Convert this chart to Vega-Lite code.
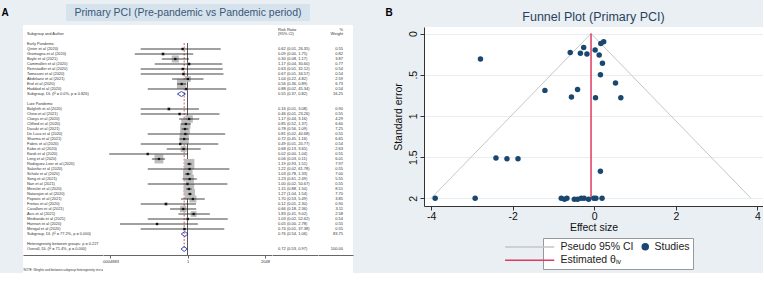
{
"$schema":"https://vega.github.io/schema/vega-lite/v6.json",
"background":"#e9eff3",
"padding":{"left":0,"top":4,"right":0,"bottom":0},
"config":{"view":{"stroke":null},"font":"Liberation Sans"},
"datasets":{
"forest":[
{"row":-0.9,"rrtext":"Risk Ratio","wtext":"%","type":"head"},
{"row":0,"label":"Subgroup and Author","rrtext":"(95% CI)","wtext":"Weight","type":"head"},
{"row":2,"label":"Early Pandemic","type":"group"},
{"row":3,"label":"Qinier et al (2020)","rr":0.62,"lo":0.01,"hi":26.35,"w":0.55,"rrtext":"0.62 (0.01, 26.35)","wtext":"0.55","type":"study"},
{"row":4,"label":"Gramagna et al (2020)","rr":0.09,"lo":0.0056,"hi":1.75,"w":0.82,"rrtext":"0.09 (0.00, 1.75)","wtext":"0.82","type":"study"},
{"row":5,"label":"Boyle et al (2021)","rr":0.30,"lo":0.08,"hi":1.17,"w":3.87,"rrtext":"0.30 (0.08, 1.17)","wtext":"3.87","type":"study"},
{"row":6,"label":"Cammalleri et al (2020)","rr":1.17,"lo":0.04,"hi":30.60,"w":0.77,"rrtext":"1.17 (0.04, 30.60)","wtext":"0.77","type":"study"},
{"row":7,"label":"Reinstadler et al (2020)","rr":0.63,"lo":0.01,"hi":32.12,"w":0.54,"rrtext":"0.63 (0.01, 32.12)","wtext":"0.54","type":"study"},
{"row":8,"label":"Tomasoni et al (2020)","rr":0.67,"lo":0.01,"hi":34.57,"w":0.54,"rrtext":"0.67 (0.01, 34.57)","wtext":"0.54","type":"study"},
{"row":9,"label":"Abdelaziz et al (2021)","rr":1.04,"lo":0.22,"hi":4.82,"w":2.59,"rrtext":"1.04 (0.22, 4.82)","wtext":"2.59","type":"study"},
{"row":10,"label":"Erol et al (2020)","rr":0.56,"lo":0.36,"hi":0.89,"w":6.73,"rrtext":"0.56 (0.36, 0.89)","wtext":"6.73","type":"study"},
{"row":11,"label":"Haddad et al (2020)","rr":0.88,"lo":0.02,"hi":45.34,"w":0.54,"rrtext":"0.88 (0.02, 45.34)","wtext":"0.54","type":"study"},
{"row":12,"label":"Subgroup, DL (I² = 0.0%, p = 0.826)","rr":0.55,"lo":0.37,"hi":0.82,"rrtext":"0.55 (0.37, 0.82)","wtext":"16.25","type":"sum"},
{"row":14,"label":"Late Pandemic","type":"group"},
{"row":15,"label":"Balghith et al (2020)","rr":0.16,"lo":0.01,"hi":3.08,"w":0.90,"rrtext":"0.16 (0.01, 3.08)","wtext":"0.90","type":"study"},
{"row":16,"label":"Chew et al (2021)","rr":0.46,"lo":0.01,"hi":23.26,"w":0.55,"rrtext":"0.46 (0.01, 23.26)","wtext":"0.55","type":"study"},
{"row":17,"label":"Claeys et al (2020)","rr":1.17,"lo":0.44,"hi":3.16,"w":4.29,"rrtext":"1.17 (0.44, 3.16)","wtext":"4.29","type":"study"},
{"row":18,"label":"Clifford et al (2020)","rr":0.85,"lo":0.52,"hi":1.37,"w":6.60,"rrtext":"0.85 (0.52, 1.37)","wtext":"6.60","type":"study"},
{"row":19,"label":"Dasuki et al (2021)","rr":0.78,"lo":0.56,"hi":1.09,"w":7.25,"rrtext":"0.78 (0.56, 1.09)","wtext":"7.25","type":"study"},
{"row":20,"label":"De Luca et al (2020)","rr":0.81,"lo":0.02,"hi":40.68,"w":0.55,"rrtext":"0.81 (0.02, 40.68)","wtext":"0.55","type":"study"},
{"row":21,"label":"Sharma et al (2021)","rr":0.72,"lo":0.45,"hi":1.16,"w":6.65,"rrtext":"0.72 (0.45, 1.16)","wtext":"6.65","type":"study"},
{"row":22,"label":"Fabris et al (2020)","rr":0.49,"lo":0.01,"hi":20.77,"w":0.54,"rrtext":"0.49 (0.01, 20.77)","wtext":"0.54","type":"study"},
{"row":23,"label":"Kabo et al (2020)","rr":0.68,"lo":0.13,"hi":3.65,"w":2.63,"rrtext":"0.68 (0.13, 3.65)","wtext":"2.63","type":"study"},
{"row":24,"label":"Kwok et al (2020)","rr":0.02,"lo":0.00045,"hi":1.04,"w":0.55,"rrtext":"0.02 (0.00, 1.04)","wtext":"0.55","type":"study"},
{"row":25,"label":"Leng et al (2020)","rr":0.06,"lo":0.03,"hi":0.11,"w":6.01,"rrtext":"0.06 (0.03, 0.11)","wtext":"6.01","type":"study"},
{"row":26,"label":"Rodriguez-Leor et al (2020)","rr":1.19,"lo":0.93,"hi":1.51,"w":7.97,"rrtext":"1.19 (0.93, 1.51)","wtext":"7.97","type":"study"},
{"row":27,"label":"Salarifar et al (2020)","rr":1.22,"lo":0.02,"hi":61.78,"w":0.55,"rrtext":"1.22 (0.02, 61.78)","wtext":"0.55","type":"study"},
{"row":28,"label":"Scholz et al (2020)","rr":1.03,"lo":0.78,"hi":1.33,"w":7.00,"rrtext":"1.03 (0.78, 1.33)","wtext":"7.00","type":"study"},
{"row":29,"label":"Song et al (2021)","rr":1.23,"lo":0.61,"hi":2.49,"w":5.55,"rrtext":"1.23 (0.61, 2.49)","wtext":"5.55","type":"study"},
{"row":30,"label":"Nan et al (2021)","rr":1.00,"lo":0.02,"hi":50.67,"w":0.55,"rrtext":"1.00 (0.02, 50.67)","wtext":"0.55","type":"study"},
{"row":31,"label":"Meesler et al (2020)","rr":1.15,"lo":0.88,"hi":1.50,"w":8.51,"rrtext":"1.15 (0.88, 1.50)","wtext":"8.51","type":"study"},
{"row":32,"label":"Natarajan et al (2020)","rr":1.27,"lo":1.04,"hi":1.54,"w":7.70,"rrtext":"1.27 (1.04, 1.54)","wtext":"7.70","type":"study"},
{"row":33,"label":"Popovic et al (2021)","rr":1.70,"lo":0.53,"hi":5.49,"w":3.85,"rrtext":"1.70 (0.53, 5.49)","wtext":"3.85","type":"study"},
{"row":34,"label":"Freitas et al (2020)","rr":0.12,"lo":0.01,"hi":2.30,"w":0.90,"rrtext":"0.12 (0.01, 2.30)","wtext":"0.90","type":"study"},
{"row":35,"label":"Cavalloni et al (2021)","rr":0.66,"lo":0.18,"hi":2.36,"w":3.11,"rrtext":"0.66 (0.18, 2.36)","wtext":"3.11","type":"study"},
{"row":36,"label":"Asis et al (2021)","rr":1.83,"lo":0.41,"hi":9.02,"w":2.58,"rrtext":"1.83 (0.41, 9.02)","wtext":"2.58","type":"study"},
{"row":37,"label":"Medranda et al (2021)","rr":1.03,"lo":0.02,"hi":52.62,"w":0.54,"rrtext":"1.03 (0.02, 52.62)","wtext":"0.54","type":"study"},
{"row":38,"label":"Hannan et al (2020)","rr":0.05,"lo":0.0013,"hi":2.78,"w":0.55,"rrtext":"0.05 (0.00, 2.78)","wtext":"0.55","type":"study"},
{"row":39,"label":"Mengal et al (2020)","rr":0.74,"lo":0.01,"hi":37.38,"w":0.55,"rrtext":"0.74 (0.01, 37.38)","wtext":"0.55","type":"study"},
{"row":40,"label":"Subgroup, DL (I² = 77.2%, p = 0.000)","rr":0.76,"lo":0.54,"hi":1.06,"rrtext":"0.76 (0.54, 1.06)","wtext":"83.75","type":"sum"},
{"row":42,"label":"Heterogeneity between groups: p = 0.227","type":"het"},
{"row":43,"label":"Overall, DL (I² = 71.4%, p = 0.000)","rr":0.72,"lo":0.53,"hi":0.97,"rrtext":"0.72 (0.53, 0.97)","wtext":"100.00","type":"sum"}
],
"funnel":[
{"es":-2.79,"se":0.31,"series":"Studies"},{"es":0.23,"se":0.10,"series":"Studies"},{"es":0.16,"se":0.12,"series":"Studies"},
{"es":-0.26,"se":0.17,"series":"Studies"},{"es":-0.59,"se":0.23,"series":"Studies"},{"es":-0.34,"se":0.24,"series":"Studies"},
{"es":-0.18,"se":0.25,"series":"Studies"},{"es":0.02,"se":0.20,"series":"Studies"},{"es":0.12,"se":0.26,"series":"Studies"},
{"es":0.20,"se":0.36,"series":"Studies"},{"es":0.15,"se":0.50,"series":"Studies"},{"es":0.52,"se":0.60,"series":"Studies"},
{"es":-1.21,"se":0.69,"series":"Studies"},{"es":-0.41,"se":0.68,"series":"Studies"},{"es":-0.56,"se":0.77,"series":"Studies"},
{"es":0.03,"se":0.78,"series":"Studies"},{"es":0.65,"se":0.78,"series":"Studies"},{"es":-2.41,"se":1.51,"series":"Studies"},
{"es":-2.14,"se":1.52,"series":"Studies"},{"es":-1.87,"se":1.52,"series":"Studies"},{"es":0.15,"se":1.67,"series":"Studies"},
{"es":-3.90,"se":2.0,"series":"Studies"},{"es":-2.92,"se":2.0,"series":"Studies"},{"es":-0.81,"se":2.0,"series":"Studies"},
{"es":-0.73,"se":2.01,"series":"Studies"},{"es":-0.67,"se":2.0,"series":"Studies"},{"es":-0.49,"se":2.01,"series":"Studies"},
{"es":-0.41,"se":2.01,"series":"Studies"},{"es":-0.32,"se":2.0,"series":"Studies"},{"es":-0.25,"se":2.0,"series":"Studies"},
{"es":-0.14,"se":2.01,"series":"Studies"},{"es":-0.01,"se":2.0,"series":"Studies"},{"es":0.04,"se":2.0,"series":"Studies"},
{"es":0.19,"se":2.0,"series":"Studies"}
],
"funnelLines":[
{"es":-4.0,"se":2,"series":"Pseudo 95% CI"},{"es":-0.08,"se":0,"series":"Pseudo 95% CI"},{"es":3.84,"se":2,"series":"Pseudo 95% CI"}
],
"theta":[{"es":-0.08,"lo":0,"hi":2,"series":"Estimated θᵢᵥ"}]
},
"hconcat":[
{"hconcat":[
  {"width":10,"height":17,"data":{"values":[{"t":"A"}]},"mark":{"type":"text","fontSize":10,"fontWeight":"bold","color":"#000"},"encoding":{"text":{"field":"t"}}},
  {"vconcat":[
    {"width":244,"height":17,"view":{"fill":"#d6e3ed","stroke":null},"data":{"values":[{"t":"Primary PCI (Pre-pandemic vs Pandemic period)"}]},"mark":{"type":"text","fontSize":10.5,"color":"#3a5677"},"encoding":{"text":{"field":"t"}}},
    {"hconcat":[
      {"width":80,"height":248,"view":{"fill":"white","stroke":null},"data":{"name":"forest"},
       "transform":[{"filter":"isValid(datum.label)"}],
       "mark":{"type":"text","align":"left","fontSize":3.9,"color":"#333","dx":4},
       "encoding":{
         "x":{"datum":0,"type":"quantitative","scale":{"domain":[0,1]},"axis":{"ticks":false,"labels":false,"grid":false,"domainColor":"#666","offset":-18,"title":"NOTE: Weights and between-subgroup heterogeneity test are from random-effects model","titleAnchor":"start","titleFontSize":3,"titleFontWeight":"normal","titleColor":"#333","titlePadding":13}},
         "y":{"field":"row","type":"quantitative","scale":{"domain":[-1.8,47.8],"reverse":true,"nice":false,"zero":false},"axis":null},
         "text":{"field":"label"}}},
      {"width":169,"height":248,"view":{"fill":"white","stroke":null},
       "layer":[
        {"data":{"values":[{}]},"mark":{"type":"rule","color":"#444","strokeWidth":0.9},
         "encoding":{"x":{"datum":1,"type":"quantitative","scale":{"type":"log","base":2,"domain":[0.00036685,3628.2]},
            "axis":{"values":[0.00048828125,1,2048],"labelExpr":"datum.value < 0.001 ? '.0004883' : (datum.value > 1000 ? '2048' : '1')","offset":-18,"grid":false,"tickSize":3,"labelFontSize":4,"labelPadding":1,"labelColor":"#333","title":null,"domainColor":"#666","tickColor":"#666","labelFlush":false,"labelOverlap":false}},
           "y":{"datum":1.8,"type":"quantitative","scale":{"domain":[-1.8,47.8],"reverse":true,"nice":false,"zero":false},"axis":null},
           "y2":{"datum":44.2}}},
        {"data":{"values":[{}]},"mark":{"type":"rule","color":"#c8333a","strokeWidth":0.8,"strokeDash":[2,1.5]},
         "encoding":{"x":{"datum":0.72,"type":"quantitative"},"y":{"datum":1.8,"type":"quantitative"},"y2":{"datum":43}}},
        {"data":{"name":"forest"},"transform":[{"filter":"datum.type == 'study'"}],
         "mark":{"type":"point","shape":"square","filled":true,"color":"#bdbdbd","opacity":1},
         "encoding":{"x":{"field":"rr","type":"quantitative"},"y":{"field":"row","type":"quantitative"},
           "size":{"field":"w","type":"quantitative","scale":{"domain":[0,10],"range":[0,130]},"legend":null}}},
        {"data":{"name":"forest"},"transform":[{"filter":"datum.type == 'study'"}],
         "mark":{"type":"rule","color":"#111","strokeWidth":0.8},
         "encoding":{"x":{"field":"lo","type":"quantitative"},"x2":{"field":"hi"},"y":{"field":"row","type":"quantitative"}}},
        {"data":{"name":"forest"},"transform":[{"filter":"datum.type == 'study'"}],
         "mark":{"type":"point","shape":"square","filled":true,"color":"#111","size":5,"opacity":1},
         "encoding":{"x":{"field":"rr","type":"quantitative"},"y":{"field":"row","type":"quantitative"}}},
        {"data":{"name":"forest"},"transform":[{"filter":"datum.type == 'sum'"}],
         "mark":{"type":"rule","color":"#2636a8","strokeWidth":0.9,"y2Offset":-2.5},
         "encoding":{"x":{"field":"lo","type":"quantitative"},"x2":{"field":"rr"},"y":{"field":"row","type":"quantitative"},"y2":{"field":"row"}}},
        {"data":{"name":"forest"},"transform":[{"filter":"datum.type == 'sum'"}],
         "mark":{"type":"rule","color":"#2636a8","strokeWidth":0.9,"yOffset":-2.5},
         "encoding":{"x":{"field":"rr","type":"quantitative"},"x2":{"field":"hi"},"y":{"field":"row","type":"quantitative"},"y2":{"field":"row"}}},
        {"data":{"name":"forest"},"transform":[{"filter":"datum.type == 'sum'"}],
         "mark":{"type":"rule","color":"#2636a8","strokeWidth":0.9,"y2Offset":2.5},
         "encoding":{"x":{"field":"lo","type":"quantitative"},"x2":{"field":"rr"},"y":{"field":"row","type":"quantitative"},"y2":{"field":"row"}}},
        {"data":{"name":"forest"},"transform":[{"filter":"datum.type == 'sum'"}],
         "mark":{"type":"rule","color":"#2636a8","strokeWidth":0.9,"yOffset":2.5},
         "encoding":{"x":{"field":"rr","type":"quantitative"},"x2":{"field":"hi"},"y":{"field":"row","type":"quantitative"},"y2":{"field":"row"}}}
       ]},
      {"width":46,"height":248,"view":{"fill":"white","stroke":null},"data":{"name":"forest"},
       "transform":[{"filter":"isValid(datum.rrtext)"}],
       "mark":{"type":"text","align":"left","fontSize":4,"color":"#333","dx":6},
       "encoding":{
         "x":{"datum":0,"type":"quantitative","scale":{"domain":[0,1]},"axis":{"ticks":false,"labels":false,"grid":false,"domainColor":"#666","offset":-18,"title":null}},
         "y":{"field":"row","type":"quantitative","scale":{"domain":[-1.8,47.8],"reverse":true,"nice":false,"zero":false},"axis":null},
         "text":{"field":"rrtext"}}},
      {"width":35,"height":248,"view":{"fill":"white","stroke":null},"data":{"name":"forest"},
       "transform":[{"filter":"isValid(datum.wtext)"}],
       "mark":{"type":"text","align":"right","fontSize":4,"color":"#333","dx":-10},
       "encoding":{
         "x":{"datum":1,"type":"quantitative","scale":{"domain":[0,1]},"axis":{"ticks":false,"labels":false,"grid":false,"domainColor":"#666","offset":-18,"title":null}},
         "y":{"field":"row","type":"quantitative","scale":{"domain":[-1.8,47.8],"reverse":true,"nice":false,"zero":false},"axis":null},
         "text":{"field":"wtext"}}}
    ],"spacing":0,"bounds":"flush"}
  ],"spacing":4,"center":true}
],"spacing":13},
{"hconcat":[
  {"width":6,"height":17,"data":{"values":[{"t":"B"}]},"mark":{"type":"text","fontSize":10,"fontWeight":"bold","color":"#000"},"encoding":{"text":{"field":"t"}}},
  {"vconcat":[
    {"width":4,"height":6,"data":{"values":[{"t":""}]},"mark":{"type":"text","fontSize":0.1,"baseline":"top"},"encoding":{"text":{"field":"t"}}},
    {"width":339,"height":179,"view":{"fill":"white","stroke":null},
     "title":{"text":"Funnel Plot (Primary PCI)","fontSize":12.5,"fontWeight":"normal","color":"#2b3f5e","offset":4,"anchor":"middle","frame":"group"},
     "layer":[
      {"data":{"name":"funnelLines"},"mark":{"type":"line","strokeWidth":1},
       "encoding":{
         "x":{"field":"es","type":"quantitative","scale":{"domain":[-4.174,4.135],"nice":false,"zero":false},
            "axis":{"values":[-4,-2,0,2,4],"labelExpr":"(datum.value < 0 ? '-' : '') + abs(datum.value)","title":"Effect size","grid":false,"tickSize":4,"labelFontSize":10.5,"titleFontSize":10.5,"titleFontWeight":"normal","labelPadding":1,"titlePadding":1,"domainColor":"#333","tickColor":"#333","labelColor":"#111","titleColor":"#111","labelFlush":false}},
         "y":{"field":"se","type":"quantitative","scale":{"domain":[-0.079,2.093],"reverse":true,"nice":false,"zero":false},
            "axis":{"values":[0,0.5,1,1.5,2],"labelExpr":"datum.value == 0 ? '0' : datum.value == 0.5 ? '.5' : datum.value == 1 ? '1' : datum.value == 1.5 ? '1.5' : '2'","title":"Standard error","grid":true,"gridColor":"#e6eef1","tickSize":4,"labelAngle":-90,"labelAlign":"center","labelBaseline":"bottom","labelPadding":2,"labelFontSize":10.5,"titleFontSize":10.5,"titleFontWeight":"normal","titlePadding":5,"domainColor":"#333","tickColor":"#333","labelColor":"#111","titleColor":"#111","labelFlush":false}},
         "color":{"field":"series","type":"nominal","scale":{"domain":["Pseudo 95% CI","Studies","Estimated θᵢᵥ"],"range":["#c6c6c6","#1a476f","#e03a5e"]},
            "legend":{"orient":"none","legendX":543,"legendY":234,"columns":2,"direction":"horizontal","values":["Pseudo 95% CI","Studies","Estimated θᵢᵥ"],"title":null,"strokeColor":"#999","fillColor":"white","padding":3,"rowPadding":2,"columnPadding":5,"labelFontSize":10.5,"labelColor":"#222","symbolSize":36,"symbolStrokeWidth":1.5,
              "encode":{"symbols":{"update":{"stroke":{"signal":"datum.value === 'Studies' ? '#1a476f' : (datum.value === 'Pseudo 95% CI' ? '#c6c6c6' : '#e03a5e')"},"fill":{"signal":"datum.value === 'Studies' ? '#1a476f' : 'transparent'"},"strokeWidth":{"value":1.5},"opacity":{"value":1}}}}}}}},
      {"data":{"name":"theta"},"mark":{"type":"rule","strokeWidth":1.5},
       "encoding":{"x":{"field":"es","type":"quantitative"},"y":{"field":"lo","type":"quantitative"},"y2":{"field":"hi"},"color":{"field":"series","type":"nominal"}}},
      {"data":{"name":"funnel"},"mark":{"type":"point","filled":true,"size":30,"opacity":1},
       "encoding":{"x":{"field":"es","type":"quantitative"},"y":{"field":"se","type":"quantitative"},"color":{"field":"series","type":"nominal"},
         "shape":{"field":"series","type":"nominal","scale":{"domain":["Pseudo 95% CI","Studies","Estimated θᵢᵥ"],"range":["M-15.4,0H1","circle","M-15.4,0H1"]}}}}
     ]}
  ],"spacing":0}
],"spacing":0}
],
"spacing":32
}
